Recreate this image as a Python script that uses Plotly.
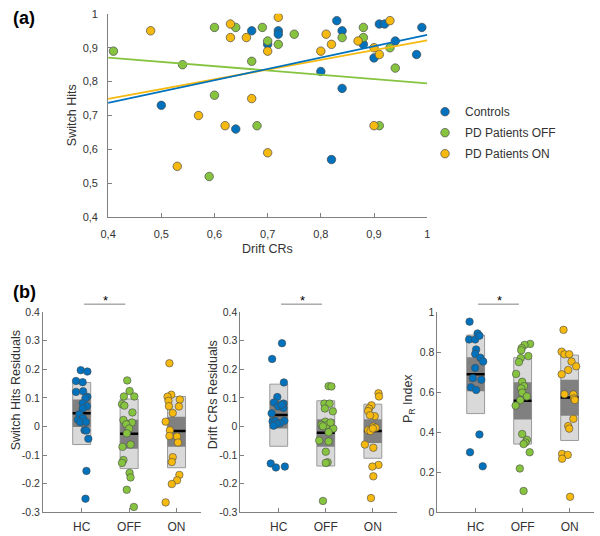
import plotly.graph_objects as go

# ---------------- panel (a): Switch Hits vs Drift CRs ----------------
ctrl_x = [0.50, 0.64, 0.67, 0.72, 0.72, 0.70, 0.83, 0.84, 0.88, 0.91, 0.92, 0.99, 0.94, 0.90, 0.98, 0.80, 0.84, 0.82]
ctrl_y = [0.73, 0.66, 0.95, 0.95, 0.94, 0.91, 0.98, 0.95, 0.91, 0.97, 0.97, 0.96, 0.92, 0.87, 0.88, 0.83, 0.78, 0.57]
off_x = [0.41, 0.54, 0.60, 0.64, 0.69, 0.70, 0.72, 0.75, 0.67, 0.60, 0.68, 0.59, 0.84, 0.88, 0.88, 0.93, 0.94, 0.91]
off_y = [0.89, 0.85, 0.96, 0.96, 0.96, 0.92, 0.91, 0.94, 0.86, 0.76, 0.67, 0.52, 0.93, 0.96, 0.93, 0.90, 0.84, 0.67]
on_x = [0.48, 0.63, 0.63, 0.66, 0.72, 0.70, 0.67, 0.57, 0.62, 0.70, 0.53, 0.81, 0.82, 0.80, 0.87, 0.93, 0.90, 0.91, 0.90]
on_y = [0.95, 0.97, 0.93, 0.93, 0.99, 0.89, 0.75, 0.70, 0.67, 0.59, 0.55, 0.94, 0.91, 0.89, 0.92, 0.98, 0.90, 0.88, 0.67]

# fitted lines (end points)
fit_x = [0.4, 1.0]
fit_ctrl = [0.737, 0.938]
fit_off = [0.871, 0.795]
fit_on = [0.749, 0.922]

# ---------------- panel (b): residuals / PR index ----------------
groups = ["HC", "OFF", "ON"]

# switch hits residuals (jittered x, value)
sh_hc_x = [0.98, 1.12, 0.88, 1.02, 0.88, 1.03, 1.12, 1.08, 1.02, 1.11, 1.02, 0.95, 0.92, 1.03, 0.97, 1.09, 1.06, 1.10, 1.14, 1.10, 1.08]
sh_hc_y = [0.197, 0.192, 0.159, 0.155, 0.121, 0.123, 0.104, 0.099, 0.081, 0.071, 0.063, 0.043, 0.024, 0.029, 0.015, 0.016, -0.013, -0.014, -0.043, -0.155, -0.252]
sh_off_x = [1.96, 2.01, 1.89, 2.11, 1.85, 1.90, 2.07, 1.88, 2.06, 1.94, 2.00, 1.95, 2.03, 1.86, 1.88, 1.85, 2.01, 2.03, 1.95, 2.10]
sh_off_y = [0.161, 0.124, 0.105, 0.105, 0.078, 0.073, 0.049, 0.023, 0.014, 0.008, -0.007, -0.024, -0.063, -0.071, -0.117, -0.127, -0.162, -0.178, -0.221, -0.281]
sh_on_x = [2.85, 2.89, 2.81, 3.07, 2.83, 2.84, 3.05, 2.92, 2.77, 2.86, 3.01, 2.85, 3.03, 2.92, 2.90, 3.06, 3.01, 2.90, 2.77]
sh_on_y = [0.221, 0.111, 0.104, 0.094, 0.090, 0.071, 0.070, 0.047, 0.017, -0.013, -0.035, -0.033, -0.056, -0.107, -0.124, -0.169, -0.188, -0.201, -0.265]
sh_mean = [0.046, -0.025, -0.016]
sh_ci_lo = [-0.002, -0.078, -0.071]
sh_ci_hi = [0.094, 0.024, 0.034]
sh_sd_lo = [-0.063, -0.147, -0.144]
sh_sd_hi = [0.154, 0.096, 0.105]

# drift CRs residuals
dc_hc_x = [1.07, 0.86, 1.11, 0.97, 0.90, 1.10, 0.99, 1.10, 0.85, 0.87, 0.93, 1.12, 1.03, 0.96, 0.89, 1.06, 0.83, 0.94, 1.13]
dc_hc_y = [0.291, 0.236, 0.154, 0.103, 0.084, 0.080, 0.070, 0.065, 0.046, 0.018, 0.019, 0.020, 0.011, 0.009, 0.003, 0.076, -0.129, -0.143, -0.140]
dc_off_x = [2.06, 2.12, 1.97, 2.08, 1.98, 2.15, 1.99, 1.91, 2.01, 1.94, 2.16, 2.06, 1.86, 2.06, 2.00, 2.04, 2.00, 1.94, 2.10]
dc_off_y = [0.141, 0.140, 0.080, 0.080, 0.063, 0.053, 0.017, 0.006, 0.004, 0.001, -0.007, -0.020, -0.049, -0.052, -0.088, -0.125, -0.127, -0.260, 0.014]
dc_on_x = [3.12, 3.13, 2.97, 2.92, 2.90, 3.04, 2.94, 3.01, 3.06, 2.90, 2.95, 3.00, 2.83, 3.01, 3.12, 2.99, 3.01, 2.96]
dc_on_y = [0.116, 0.105, 0.074, 0.063, 0.054, 0.036, 0.039, 0.000, -0.004, -0.013, -0.016, -0.007, -0.063, -0.074, -0.134, -0.140, -0.174, -0.250]
dc_mean = [0.040, -0.022, -0.016]
dc_ci_lo = [-0.007, -0.071, -0.058]
dc_ci_hi = [0.090, 0.025, 0.025]
dc_sd_lo = [-0.069, -0.138, -0.111]
dc_sd_hi = [0.148, 0.090, 0.078]

# PR index
pr_hc_x = [0.87, 1.04, 0.86, 0.99, 1.08, 1.01, 0.99, 1.10, 1.16, 0.99, 1.12, 0.94, 0.90, 1.01, 1.08, 0.88, 1.15]
pr_hc_y = [0.952, 0.893, 0.863, 0.863, 0.882, 0.813, 0.791, 0.772, 0.753, 0.721, 0.662, 0.670, 0.624, 0.611, 0.389, 0.300, 0.230]
pr_off_x = [2.16, 2.04, 1.98, 1.97, 2.12, 1.96, 1.92, 1.86, 1.99, 2.03, 1.97, 1.99, 2.09, 1.95, 1.85, 1.99, 2.09, 2.06, 2.02, 2.15, 1.94, 2.02]
pr_off_y = [0.841, 0.836, 0.820, 0.809, 0.780, 0.770, 0.750, 0.691, 0.652, 0.630, 0.619, 0.598, 0.579, 0.560, 0.533, 0.391, 0.362, 0.349, 0.341, 0.300, 0.219, 0.107]
pr_on_x = [2.87, 2.83, 2.89, 2.99, 3.04, 3.14, 2.97, 2.83, 2.89, 3.08, 3.09, 3.11, 3.08, 2.97, 2.99, 2.84, 2.96, 2.84, 3.01]
pr_on_y = [0.911, 0.802, 0.789, 0.789, 0.753, 0.729, 0.711, 0.689, 0.590, 0.589, 0.569, 0.561, 0.467, 0.431, 0.418, 0.292, 0.287, 0.268, 0.078]
pr_mean = [0.689, 0.557, 0.574]
pr_ci_lo = [0.604, 0.464, 0.482]
pr_ci_hi = [0.774, 0.649, 0.662]
pr_sd_lo = [0.493, 0.341, 0.359]
pr_sd_hi = [0.885, 0.772, 0.785]

BLUE = "#0072BD"
GREEN = "#86C440"
YELLOW = "#F5B90F"
EDGE = "#4a4a4a"
AXC = "#808080"
TXT = "#333333"
FONT = "Liberation Sans"

fig = go.Figure()

# panel (a) scatter
for xs, ys, col, name in [(ctrl_x, ctrl_y, BLUE, "Controls"),
                          (off_x, off_y, GREEN, "PD Patients OFF"),
                          (on_x, on_y, YELLOW, "PD Patients ON")]:
    fig.add_trace(go.Scatter(x=xs, y=ys, mode="markers", name=name, legendgroup=name,
                             marker=dict(size=8.5, color=col, line=dict(color=EDGE, width=0.7)),
                             xaxis="x", yaxis="y"))
for ys, col in [(fit_off, GREEN), (fit_on, YELLOW), (fit_ctrl, BLUE)]:
    fig.add_trace(go.Scatter(x=fit_x, y=ys, mode="lines", line=dict(color=col, width=1.8),
                             showlegend=False, xaxis="x", yaxis="y"))

# panel (b) boxes + points
cats = [1, 2, 3]
hw = 0.19
panels = [
    ("x2", "y2", sh_mean, sh_ci_lo, sh_ci_hi, sh_sd_lo, sh_sd_hi,
     [(sh_hc_x, sh_hc_y, BLUE), (sh_off_x, sh_off_y, GREEN), (sh_on_x, sh_on_y, YELLOW)]),
    ("x3", "y3", dc_mean, dc_ci_lo, dc_ci_hi, dc_sd_lo, dc_sd_hi,
     [(dc_hc_x, dc_hc_y, BLUE), (dc_off_x, dc_off_y, GREEN), (dc_on_x, dc_on_y, YELLOW)]),
    ("x4", "y4", pr_mean, pr_ci_lo, pr_ci_hi, pr_sd_lo, pr_sd_hi,
     [(pr_hc_x, pr_hc_y, BLUE), (pr_off_x, pr_off_y, GREEN), (pr_on_x, pr_on_y, YELLOW)]),
]
for xa, ya, mean, cilo, cihi, sdlo, sdhi, pts in panels:
    fig.add_trace(go.Bar(x=cats, y=[h - l for h, l in zip(sdhi, sdlo)], base=sdlo, width=2 * hw,
                         marker=dict(color="#D9D9D9", line=dict(color="#9A9A9A", width=1)),
                         showlegend=False, xaxis=xa, yaxis=ya))
    fig.add_trace(go.Bar(x=cats, y=[h - l for h, l in zip(cihi, cilo)], base=cilo, width=2 * hw,
                         marker=dict(color="#808080", line=dict(color="#808080", width=0)),
                         showlegend=False, xaxis=xa, yaxis=ya))
    mx, my = [], []
    for c, m in zip(cats, mean):
        mx += [c - hw, c + hw, None]
        my += [m, m, None]
    fig.add_trace(go.Scatter(x=mx, y=my, mode="lines", line=dict(color="black", width=2.5),
                             showlegend=False, xaxis=xa, yaxis=ya))
    for xs, ys, col in pts:
        fig.add_trace(go.Scatter(x=xs, y=ys, mode="markers",
                                 marker=dict(size=7.5, color=col, line=dict(color=EDGE, width=0.6)),
                                 showlegend=False, xaxis=xa, yaxis=ya, cliponaxis=False))

axis_common = dict(showline=True, linecolor=AXC, linewidth=1, ticks="inside", ticklen=4,
                   tickcolor=AXC, showgrid=False, zeroline=False,
                   tickfont=dict(size=11, color=TXT, family=FONT))
ax_a = dict(axis_common, ticklabelstandoff=7)
ax_bx = dict(axis_common, tickfont=dict(size=12, color=TXT, family=FONT), ticklabelstandoff=3)
ax_by = dict(axis_common, tickfont=dict(size=10.5, color=TXT, family=FONT), ticklabelstandoff=0)

tick_a = [0.4, 0.5, 0.6, 0.7, 0.8, 0.9, 1.0]
tick_a_txt = ["0,4", "0,5", "0,6", "0,7", "0,8", "0,9", "1"]
tick_r = [-0.3, -0.2, -0.1, 0, 0.1, 0.2, 0.3, 0.4]
tick_r_txt = ["-0.3", "-0.2", "-0.1", "0", "0.1", "0.2", "0.3", "0.4"]
tick_p = [0, 0.2, 0.4, 0.6, 0.8, 1.0]
tick_p_txt = ["0", "0.2", "0.4", "0.6", "0.8", "1"]

ydom_b = [0.0336, 0.416]
fig.update_layout(
    width=600, height=536, margin=dict(l=0, r=0, t=0, b=0),
    paper_bgcolor="white", plot_bgcolor="white", barmode="overlay",
    font=dict(family=FONT, color=TXT),
    xaxis=dict(ax_a, domain=[0.17, 0.7117], range=[0.4, 1.0], tickvals=tick_a, ticktext=tick_a_txt, anchor="y"),
    yaxis=dict(ax_a, domain=[0.597, 0.985], range=[0.4, 1.0], tickvals=tick_a, ticktext=tick_a_txt, anchor="x"),
    xaxis2=dict(ax_bx, domain=[0.0595, 0.328], range=[0.185, 3.52], tickvals=cats, ticktext=groups, anchor="y2"),
    yaxis2=dict(ax_by, domain=ydom_b, range=[-0.3, 0.4], tickvals=tick_r, ticktext=tick_r_txt, anchor="x2"),
    xaxis3=dict(ax_bx, domain=[0.3945, 0.661], range=[0.185, 3.52], tickvals=cats, ticktext=groups, anchor="y3"),
    yaxis3=dict(ax_by, domain=ydom_b, range=[-0.3, 0.4], tickvals=tick_r, ticktext=tick_r_txt, anchor="x3"),
    xaxis4=dict(ax_bx, domain=[0.729, 0.995], range=[0.185, 3.52], tickvals=cats, ticktext=groups, anchor="y4"),
    yaxis4=dict(ax_by, domain=ydom_b, range=[0, 1.0], tickvals=tick_p, ticktext=tick_p_txt, anchor="x4"),
    legend=dict(x=0.708, y=0.826, xanchor="left", yanchor="top", traceorder="grouped",
                tracegroupgap=2, font=dict(size=12, color=TXT, family=FONT), itemwidth=30,
                bgcolor="rgba(0,0,0,0)"),
    showlegend=True,
)

# panel labels and axis titles
ann = [
    dict(text="<b>(a)</b>", x=0.005, y=0.978, size=18),
    dict(text="<b>(b)</b>", x=0.005, y=0.455, size=18),
]
for a in ann:
    fig.add_annotation(text=a["text"], x=a["x"], y=a["y"], xref="paper", yref="paper",
                       xanchor="left", yanchor="middle", showarrow=False,
                       font=dict(size=a["size"], color="black", family=FONT))
titles = [
    ("Switch Hits", 0.108, 0.791, -90),
    ("Drift CRs", 0.441, 0.537, 0),
    ("Switch Hits Residuals", 0.0130, 0.266, -90),
    ("Drift CRs Residuals", 0.347, 0.258, -90),
    ("P<sub>R</sub> Index", 0.681, 0.250, -90),
]
for t, x, y, ang in titles:
    fig.add_annotation(text=t, x=x, y=y, xref="paper", yref="paper", showarrow=False,
                       textangle=ang, xanchor="center", yanchor="middle",
                       font=dict(size=12.5, color=TXT, family=FONT))

# significance bars
for xa in ["x2", "x3", "x4"]:
    fig.add_shape(type="line", xref=xa, yref="paper", x0=1.05, x1=1.92, y0=0.431, y1=0.431,
                  line=dict(color=AXC, width=1))
    fig.add_annotation(text="*", x=1.5, y=0.438, xref=xa, yref="paper", showarrow=False,
                       font=dict(size=13, color="black", family=FONT))

fig.write_html("out.html", config={"displayModeBar": False},
               post_script="document.body.style.margin='0';")
